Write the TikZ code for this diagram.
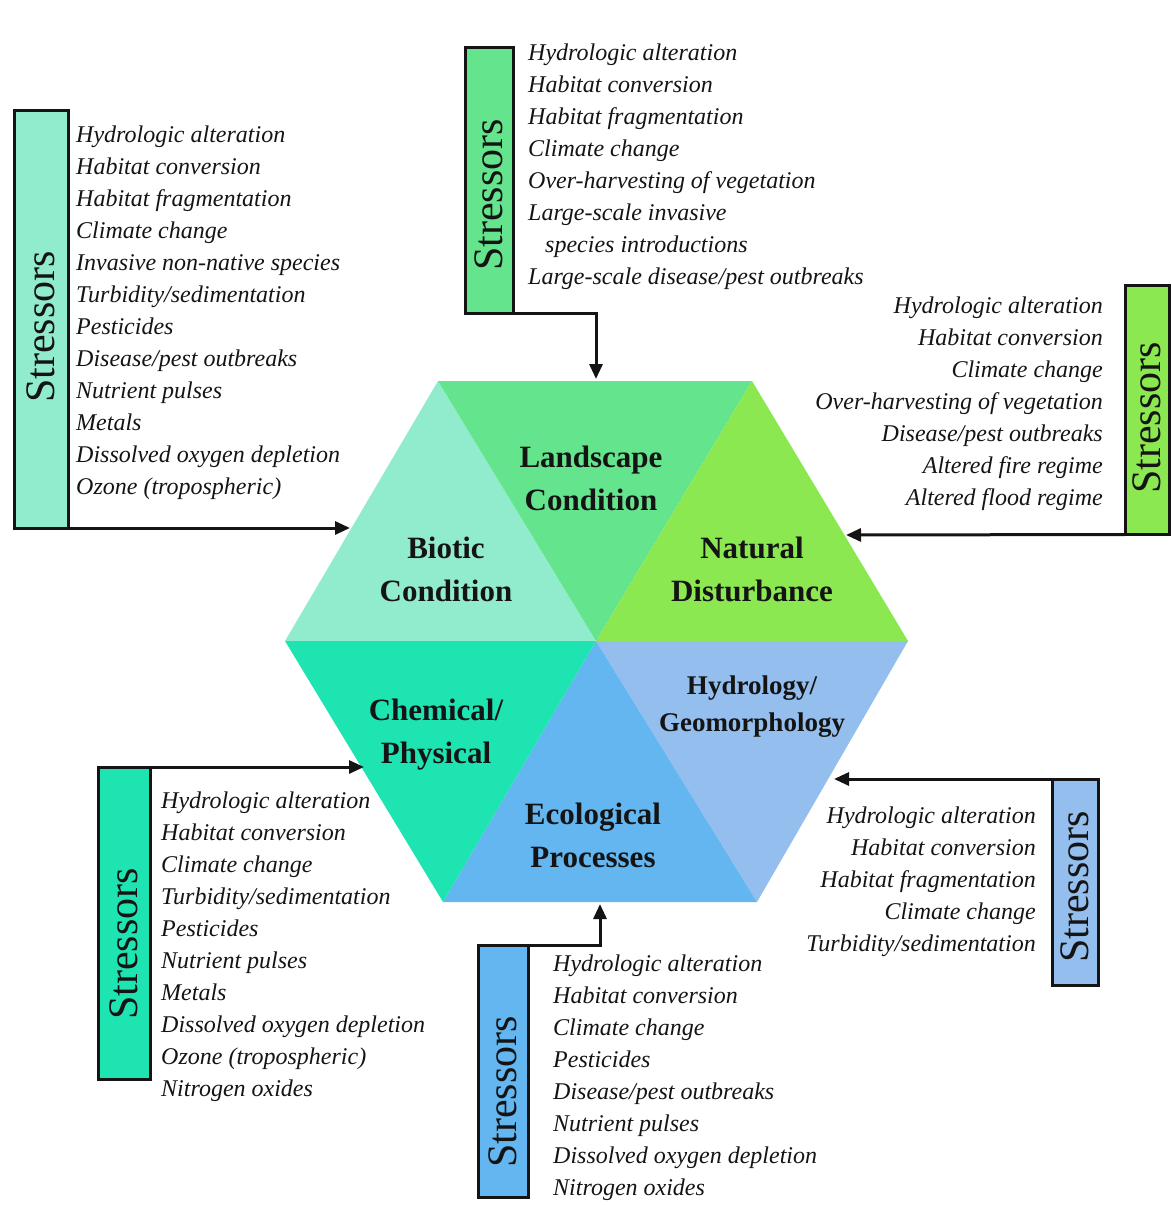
\documentclass[tikz,border=0pt]{standalone}
\usepackage{fontspec}
\setmainfont{Liberation Serif}
\usepackage{graphicx}
\usetikzlibrary{arrows.meta,positioning,calc}
\definecolor{ink}{RGB}{20,20,20}
\definecolor{bioticfill}{RGB}{145,236,205}
\definecolor{landfill}{RGB}{100,228,140}
\definecolor{naturalfill}{RGB}{140,232,80}
\definecolor{chemfill}{RGB}{30,228,178}
\definecolor{ecofill}{RGB}{100,182,240}
\definecolor{hydrofill}{RGB}{148,190,238}
\newcommand{\stresstext}[1]{\rotatebox{90}{Stressors\hspace*{#1}}}
\tikzset{
  every picture/.style={color=ink},
  stressbox/.style={draw=ink, line width=3pt, inner sep=0pt, outer sep=0pt, font=\fontsize{42}{42}\selectfont},
  list/.style={inner sep=0pt, font=\fontsize{24}{32}\selectfont\itshape},
  facet/.style={inner sep=0pt, align=center, font=\fontsize{31}{43}\selectfont\bfseries},
  feed/.style={-{Triangle[length=15pt,width=13pt]}, line width=3pt},
}

\begin{document}
\begin{tikzpicture}[x=1pt, y=-1pt]
  \useasboundingbox (0,0) rectangle (1172,1205);
  % hexagon of six facets, stressor lists feed into each one
  \coordinate (C) at (596,641);
  \coordinate (L) at (285,641);
  \coordinate (R) at (908,641);
  \coordinate (TL) at (438,381);
  \coordinate (TR) at (752,381);
  \coordinate (BL) at (443,902);
  \coordinate (BR) at (757,902);
  \fill[bioticfill] (L) -- (TL) -- (C) -- cycle;
  \fill[landfill] (TL) -- (TR) -- (C) -- cycle;
  \fill[naturalfill] (TR) -- (R) -- (C) -- cycle;
  \fill[hydrofill] (R) -- (BR) -- (C) -- cycle;
  \fill[ecofill] (BR) -- (BL) -- (C) -- cycle;
  \fill[chemfill] (BL) -- (L) -- (C) -- cycle;

  \node[facet] (landscape) at (591,478) {Landscape\\Condition};
  \node[facet] (biotic) at (446,569) {Biotic\\Condition};
  \node[facet] (natural) at (752,569) {Natural\\Disturbance};
  \node[facet, font=\fontsize{27}{37}\selectfont\bfseries] (hydro) at (752,707) {Hydrology/\\Geomorphology};
  \node[facet] (chemical) at (436,735) {Chemical/\\Physical};
  \node[facet] (ecological) at (593,835) {Ecological\\Processes};

  % stressor boxes
  \node[stressbox, fill=bioticfill, minimum width=54pt, minimum height=418pt] (tlbox) at (41,319) {\stresstext{16pt}};
  \node[stressbox, fill=landfill, minimum width=48pt, minimum height=266pt] (topbox) at (489,180) {\stresstext{30pt}};
  \node[stressbox, fill=naturalfill, minimum width=44pt, minimum height=249pt] (rbox) at (1147,410) {\stresstext{16pt}};
  \node[stressbox, fill=hydrofill, minimum width=46pt, minimum height=206pt] (lrbox) at (1075,882) {\stresstext{10pt}};
  \node[stressbox, fill=ecofill, minimum width=50pt, minimum height=252pt] (botbox) at (503,1071) {\stresstext{42pt}};
  \node[stressbox, fill=chemfill, minimum width=52pt, minimum height=312pt] (llbox) at (124,923) {\stresstext{42pt}};

  \node[list, align=left, anchor=north west] (tllist) at (76,126) {Hydrologic alteration\\ Habitat conversion\\ Habitat fragmentation\\ Climate change\\ Invasive non-native species\\ Turbidity/sedimentation\\ Pesticides\\ Disease/pest outbreaks\\ Nutrient pulses\\ Metals\\ Dissolved oxygen depletion\\ Ozone (tropospheric)};
  \node[list, align=left, anchor=north west] (toplist) at (528,44) {Hydrologic alteration\\ Habitat conversion\\ Habitat fragmentation\\ Climate change\\ Over-harvesting of vegetation\\ Large-scale invasive\\ \hspace*{17pt}species introductions\\ Large-scale disease/pest outbreaks};
  \node[list, align=right, anchor=north east] (rlist) at (1103,297) {Hydrologic alteration\\ Habitat conversion\\ Climate change\\ Over-harvesting of vegetation\\ Disease/pest outbreaks\\ Altered fire regime\\ Altered flood regime};
  \node[list, align=right, anchor=north east] (lrlist) at (1036,807) {Hydrologic alteration\\ Habitat conversion\\ Habitat fragmentation\\ Climate change\\ Turbidity/sedimentation};
  \node[list, align=left, anchor=north west] (botlist) at (553,955) {Hydrologic alteration\\ Habitat conversion\\ Climate change\\ Pesticides\\ Disease/pest outbreaks\\ Nutrient pulses\\ Dissolved oxygen depletion\\ Nitrogen oxides};
  \node[list, align=left, anchor=north west] (lllist) at (161,792) {Hydrologic alteration\\ Habitat conversion\\ Climate change\\ Turbidity/sedimentation\\ Pesticides\\ Nutrient pulses\\ Metals\\ Dissolved oxygen depletion\\ Ozone (tropospheric)\\ Nitrogen oxides};

  % arrow ends on the hexagon rim
  \coordinate (tlin) at (350,528);
  \coordinate (topin) at (596,379);
  \coordinate (rin) at (846,535);
  \coordinate (lrin) at (834,779);
  \coordinate (botin) at (600,904);
  \coordinate (llin) at (364,767);
  \draw[feed] (tlbox.south east) -- (tlin);
  \draw[feed] (topbox.south east) -| (topin);
  \draw[feed] (rbox.south west) -- (rin);
  \draw[feed] (lrbox.north west) -- (lrin);
  \draw[feed] (botbox.north east) -| (botin);
  \draw[feed] (llbox.north east) -- (llin);
\end{tikzpicture}
\end{document}
